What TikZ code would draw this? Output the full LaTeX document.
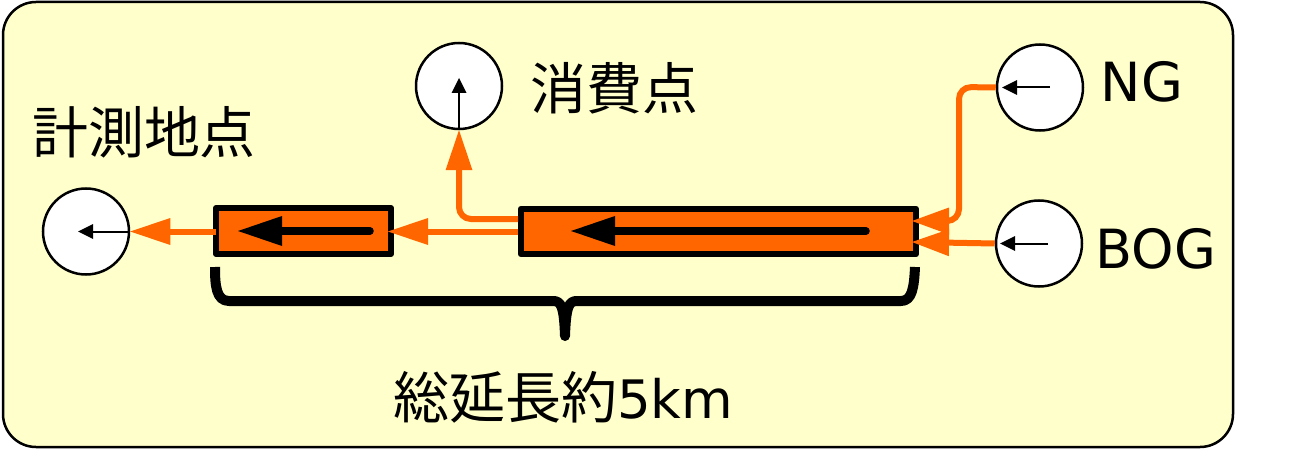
\documentclass[tikz,border=0pt]{standalone}
\usepackage{fontspec}
\setmainfont{DejaVu Sans}
\newfontfamily\cjk{Noto Sans CJK JP}
\usetikzlibrary{arrows.meta,calc}
\definecolor{panelfill}{HTML}{FFFFCC}
\definecolor{flow}{HTML}{FF6600}
\tikzset{
  x=1pt,y=-1pt,
  panel/.style={draw=black,line width=2.5pt,fill=panelfill,rounded corners=33pt},
  gauge/.style={circle,draw=black,fill=white,line width=2.5pt,minimum size=86pt,inner sep=0pt},
  pipe/.style={draw=black,fill=flow,line width=6pt,line join=round,rectangle,inner sep=0pt,outer sep=0pt},
  flowline/.style={draw=flow,line width=6pt,rounded corners=12pt,-{Triangle[length=40pt,width=27pt,line width=0pt]}},
  flowshort/.style={draw=flow,line width=6pt,rounded corners=12pt,-{Triangle[length=37pt,width=27pt,line width=0pt]}},
  bigarrow/.style={draw=black,line width=7.5pt,line cap=round,-{Triangle[length=44pt,width=30pt,line width=0pt]}},
  smallarrow/.style={draw=black,line width=2pt,-{Triangle[length=15pt,width=15pt,line width=0pt]}},
  bracket/.style={draw=black,line width=10pt,line cap=butt,line join=round},
  label/.style={inner sep=0pt,text=black,font=\fontsize{54}{54}\selectfont},
  cjklabel/.style={inner sep=0pt,text=black,font=\cjk\fontsize{56}{56}\selectfont}
}
\begin{document}
\begin{tikzpicture}
\useasboundingbox (0,0) rectangle (1310,468);
\fill[white] (0,0) rectangle (1310,468);
\path[panel] (3,2) rectangle (1233,447);
% gauges
\node[gauge] (gT) at (459,86) {};
\node[gauge] (gN) at (1040,87.5) {};
\node[gauge] (gB) at (1039,243.5) {};
\node[gauge] (gL) at (86,231.5) {};
% pipes
\node[pipe,minimum width=175pt,minimum height=46pt] (pS) at (303.5,231) {};
\node[pipe,minimum width=395pt,minimum height=45.5pt] (pB) at (718.5,231.5) {};
% labels
\node[cjklabel] (l1) at (144,132) {計測地点};
\node[cjklabel] (l2) at (614,88) {消費点};
\node[label] (l3) at (1142,82) {NG};
\node[label] (l4) at (1156,249) {BOG};
\node[cjklabel,anchor=west] (l5) at (393,397) {総延長約\fontspec{DejaVu Sans}\fontsize{53}{53}\selectfont 5km};
% flows
\coordinate (aN) at (912,221);
\coordinate (aB) at (912,242);
\coordinate (nBend) at (959,87);
\coordinate (nBot) at (959,221);
\coordinate (tBend) at (459,219);
\coordinate (bL) at (518,219);
\coordinate (bM) at (518,231.5);
\coordinate (aS) at (388,231.5);
\path[flowshort] (gN.west) -- (nBend) -- (nBot) -- (aN);
\path[flowshort] (gB.west) -- (aB);
\path[flowline] (bL) -- (tBend) -- (gT.south);
\path[flowline] (bM) -- (aS);
\path[flowline] (pS.west |- gL) -- (gL.east);
% inner arrows
\coordinate (sR) at (370,231);
\coordinate (sL) at (238,231);
\coordinate (lR) at (866,231);
\coordinate (lL) at (571,231);
\path[bigarrow] (sR) -- (sL);
\path[bigarrow] (lR) -- (lL);
% gauge arrows
\path[smallarrow] (459,128) -- (459,78);
\path[smallarrow] (1050,87.5) -- (1002,87.5);
\path[smallarrow] (1048,243.5) -- (1000,243.5);
\path[smallarrow] (128,231.5) -- (78,231.5);
% brace
\path[bracket] (215,267) .. controls (215,285) and (216,301) .. (229,301) -- (553,301)
  .. controls (561,301) and (564,306) .. (565,336)
  .. controls (566,306) and (569,301) .. (577,301) -- (901,301)
  .. controls (912,301) and (914,288) .. (915,267);
\end{tikzpicture}
\end{document}
